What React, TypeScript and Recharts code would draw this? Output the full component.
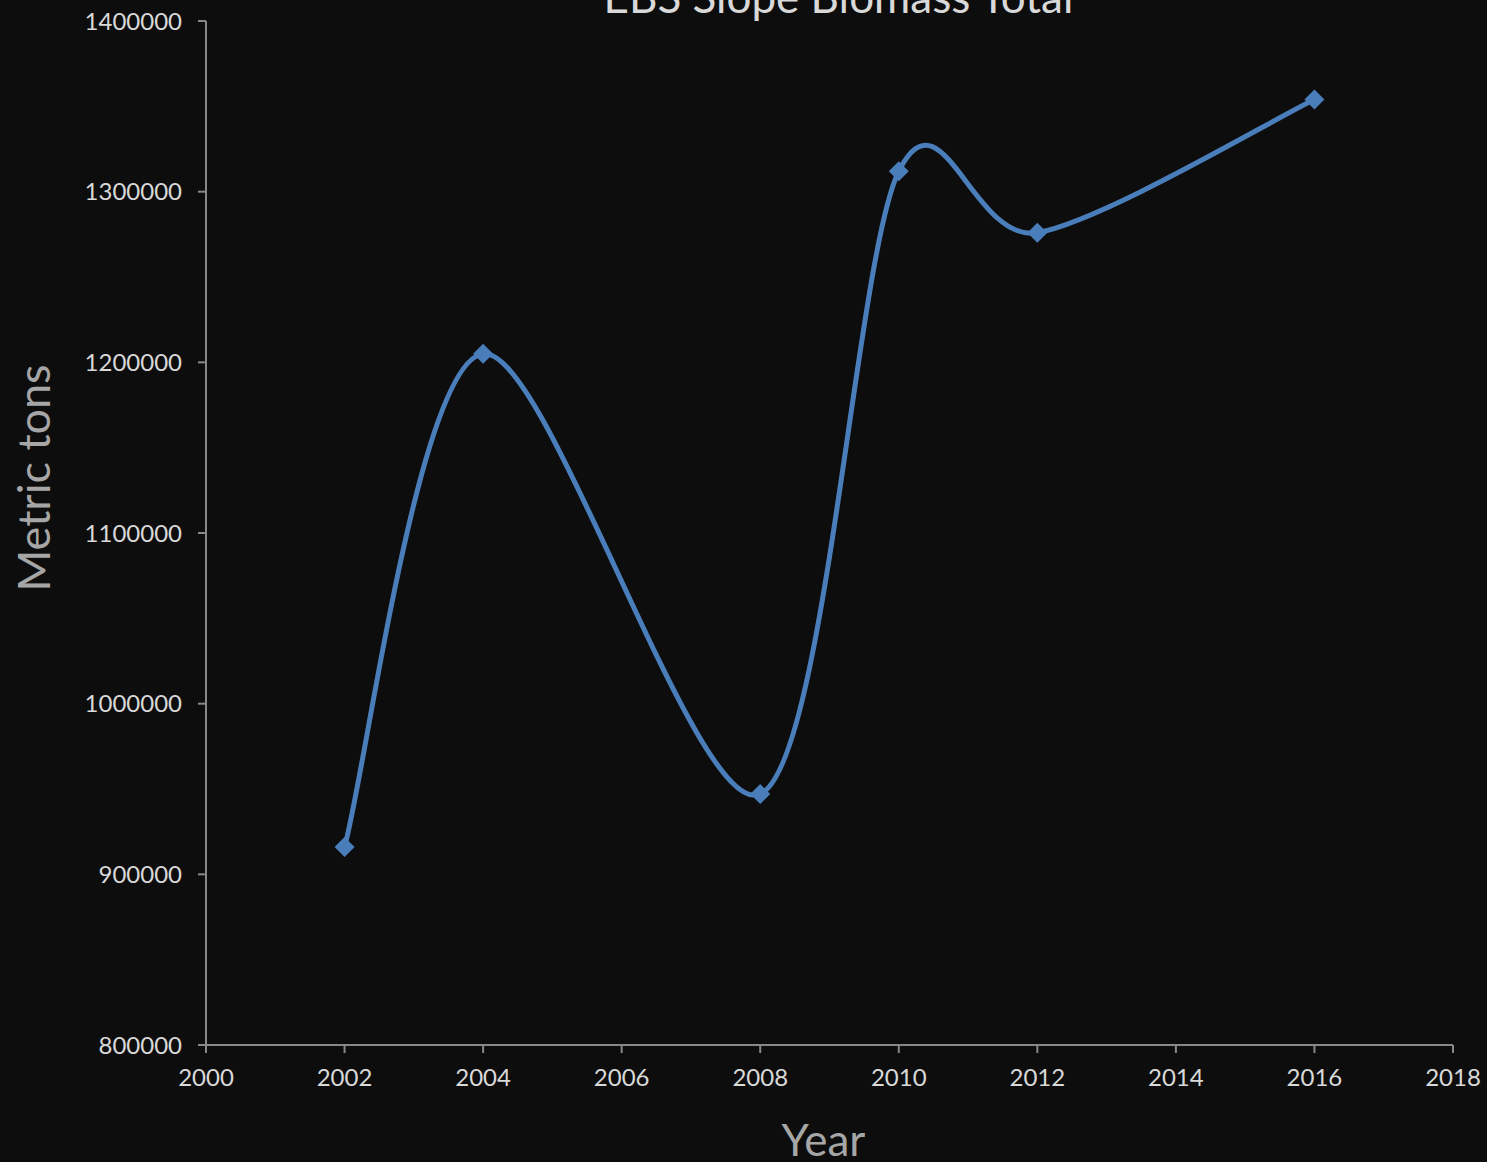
import React from "react";
import { LineChart, Line, XAxis, YAxis } from "recharts";

const years = [2002, 2004, 2008, 2010, 2012, 2016];
const biomass = [916000, 1205000, 947000, 1312000, 1276000, 1354000];
const xTicks = [2000, 2002, 2004, 2006, 2008, 2010, 2012, 2014, 2016, 2018];
const yTicks = [800000, 900000, 1000000, 1100000, 1200000, 1300000, 1400000];

const data = years.map((y, i) => ({ year: y, value: biomass[i] }));

const FONT = "Lato, 'Open Sans', sans-serif";
const LINE = "#4a7ebb";

// Excel-like smoothed line (Catmull-Rom style cubic Bezier)
const smoothCurve = (context: any) => {
  let pts: number[][] = [];
  return {
    areaStart() {},
    areaEnd() {},
    lineStart() {
      pts = [];
    },
    point(x: number, y: number) {
      pts.push([+x, +y]);
    },
    lineEnd() {
      const n = pts.length;
      if (!n) return;
      context.moveTo(pts[0][0], pts[0][1]);
      const k = 0.155;
      for (let i = 0; i < n - 1; i++) {
        const p0 = pts[Math.max(0, i - 1)];
        const p1 = pts[i];
        const p2 = pts[i + 1];
        const p3 = pts[Math.min(n - 1, i + 2)];
        const c1x = p1[0] + (p2[0] - p0[0]) * k;
        const c1y = p1[1] + (p2[1] - p0[1]) * k;
        const c2x = p2[0] - (p3[0] - p1[0]) * k;
        const c2y = p2[1] - (p3[1] - p1[1]) * k;
        context.bezierCurveTo(c1x, c1y, c2x, c2y, p2[0], p2[1]);
      }
    },
  };
};

const Diamond = (props: any) => {
  const { cx, cy, index } = props;
  if (cx == null || cy == null) return null;
  const r = 10;
  return (
    <path
      key={`d-${index}`}
      d={`M${cx},${cy - r}L${cx + r},${cy}L${cx},${cy + r}L${cx - r},${cy}Z`}
      fill={LINE}
    />
  );
};

const YLabel = (props: any) => {
  const vb = props.viewBox || {};
  const x = (vb.x ?? 0) + 50;
  const y = (vb.y ?? 21) + (vb.height ?? 1024) / 2 - 55;
  return (
    <text
      x={x}
      y={y}
      transform={`rotate(-90, ${x}, ${y})`}
      textAnchor="middle"
      fill="#a6a6a6"
      fontSize={45}
      fontFamily={FONT}
    >
      Metric tons
    </text>
  );
};

export default function App() {
  return (
    <div
      style={{
        position: "fixed",
        left: 0,
        top: 0,
        width: 1487,
        height: 1162,
        background: "#0d0d0d",
        overflow: "hidden",
      }}
    >
      <div
        style={{
          position: "absolute",
          left: 0,
          width: 1487,
          paddingLeft: 190,
          boxSizing: "border-box",
          top: -30,
          textAlign: "center",
          fontFamily: FONT,
          fontSize: 44,
          color: "#d9d9d9",
          lineHeight: "52px",
        }}
      >
        EBS Slope Biomass Total
      </div>
      <LineChart
        width={1487}
        height={1162}
        data={data}
        margin={{ top: 21, right: 34, bottom: 0, left: 0 }}
      >
        <XAxis
          dataKey="year"
          type="number"
          domain={[2000, 2018]}
          ticks={xTicks}
          allowDataOverflow
          height={117}
          stroke="#888888"
          strokeWidth={2}
          tickSize={8}
          tick={{ fill: "#d9d9d9", fontSize: 24, fontFamily: FONT }}
          tickMargin={16}
          label={{
            value: "Year",
            position: "insideBottom",
            offset: 6,
            dx: -6,
            fill: "#a6a6a6",
            fontSize: 44,
            fontFamily: FONT,
          }}
        />
        <YAxis
          type="number"
          domain={[800000, 1400000]}
          ticks={yTicks}
          allowDataOverflow
          width={206}
          stroke="#888888"
          strokeWidth={2}
          tickSize={8}
          tickMargin={16}
          tick={{ fill: "#d9d9d9", fontSize: 24, fontFamily: FONT }}
          label={<YLabel />}
        />
        <Line
          dataKey="value"
          type={smoothCurve as any}
          stroke={LINE}
          strokeWidth={5}
          dot={Diamond}
          activeDot={false}
          isAnimationActive={false}
        />
      </LineChart>
    </div>
  );
}
